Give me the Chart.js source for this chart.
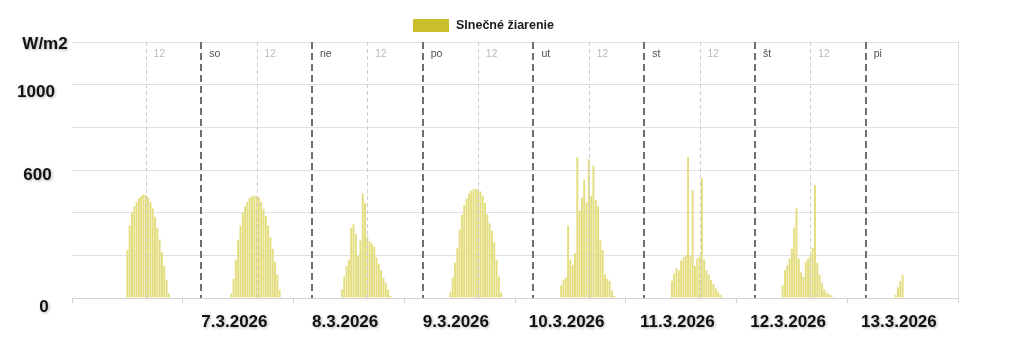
<!DOCTYPE html>
<html>
<head>
<meta charset="utf-8">
<script src="https://cdn.jsdelivr.net/npm/chart.js@4.4.1/dist/chart.umd.min.js"></script>
<style>
  body { margin: 0; background: #fff; }
  #wrap { width: 1024px; height: 346px; }
</style>
</head>
<body>
<div id="wrap"><canvas id="irr" width="1024" height="346"></canvas></div>
<script>
// x axis is in hours, counted from 5.3.2026 20:00 (so 6.3 00:00 is hour 4)
const seriesName = 'Slnečné žiarenie';
const dayDates = ['6.3.2026', '7.3.2026', '8.3.2026', '9.3.2026', '10.3.2026', '11.3.2026', '12.3.2026', '13.3.2026'];
const weekdays = ['pi', 'so', 'ne', 'po', 'ut', 'st', 'št', 'pi'];
const noonLabel = '12';

// hour of the first half-hour reading in each day
const firstSlot = [8, 6.5, 6.5, 6, 6, 6, 6, 6.5];

// W/m2, one value per 30 minutes
const day0603 = [225, 340, 400, 430, 450, 468, 478, 485, 483, 472, 450, 420, 380, 330, 275, 215, 150, 85, 20];
const day0703 = [20, 90, 180, 270, 340, 400, 430, 452, 470, 477, 480, 478, 472, 450, 418, 385, 340, 285, 230, 170, 110, 40];
const day0803 = [40, 100, 150, 180, 330, 345, 300, 200, 270, 490, 445, 290, 265, 255, 240, 190, 160, 130, 95, 70, 40, 10];
const day0903 = [30, 95, 165, 235, 320, 390, 435, 465, 490, 503, 510, 512, 508, 500, 480, 445, 392, 350, 315, 262, 180, 100, 25];
const day1003 = [60, 85, 95, 340, 180, 155, 210, 660, 410, 470, 555, 450, 650, 480, 620, 460, 430, 270, 225, 110, 90, 80, 35, 10];
const day1103 = [80, 115, 140, 130, 175, 190, 200, 660, 195, 505, 150, 185, 195, 560, 180, 130, 110, 85, 65, 45, 30, 15, 5];
const day1203 = [60, 130, 155, 185, 230, 330, 420, 185, 120, 100, 170, 185, 200, 235, 530, 165, 110, 70, 40, 25, 20, 12, 5];
const day1303 = [15, 50, 80, 108];
const dayValues = [day0603, day0703, day0803, day0903, day1003, day1103, day1203, day1303];

const yTicks = [0, 600, 1000, 1200];
const yTickLabels = ['0', '600', '1000', 'W/m2'];

// label nudges (px) to sit like the original
const yLabelX = [44, 37.5, 36, 45];
const yLabelDy = [9.5, 5, 8, 2];

const FONT = "'Liberation Sans', Arial, sans-serif";
const DAY0 = 4; // hour of 6.3 00:00 on the axis

const points = [];
dayValues.forEach((vals, d) => {
  vals.forEach((v, i) => {
    points.push({ x: DAY0 + d * 24 + firstSlot[d] + i * 0.5, y: v });
  });
});

const overlay = {
  id: 'overlay',
  afterDatasetsDraw(chart) {
    const { ctx, chartArea: a, scales: { x } } = chart;
    ctx.save();
    // noon lines
    ctx.strokeStyle = '#cdcdcd';
    ctx.lineWidth = 1;
    ctx.setLineDash([4, 3]);
    for (let d = 0; d < 7; d++) {
      const px = Math.round(x.getPixelForValue(DAY0 + d * 24 + 12)) + 0.5;
      ctx.beginPath(); ctx.moveTo(px, a.top); ctx.lineTo(px, a.bottom); ctx.stroke();
    }
    // midnight lines
    ctx.strokeStyle = '#6f6f6f';
    ctx.lineWidth = 2;
    ctx.setLineDash([7, 4]);
    for (let d = 1; d < dayDates.length; d++) {
      const px = Math.round(x.getPixelForValue(DAY0 + d * 24));
      ctx.beginPath(); ctx.moveTo(px, a.top); ctx.lineTo(px, a.bottom); ctx.stroke();
    }
    ctx.setLineDash([]);
    ctx.textBaseline = 'middle';
    ctx.textAlign = 'left';
    ctx.font = '10px ' + FONT;
    ctx.fillStyle = '#b9b9b9';
    for (let d = 0; d < 7; d++) {
      ctx.fillText(noonLabel, x.getPixelForValue(DAY0 + d * 24 + 12) + 8, a.top + 12);
    }
    ctx.font = '10.5px ' + FONT;
    ctx.fillStyle = '#4f4f4f';
    for (let d = 1; d < dayDates.length; d++) {
      ctx.fillText(weekdays[d], x.getPixelForValue(DAY0 + d * 24) + 8, a.top + 12);
    }
    ctx.restore();
  },
  afterDraw(chart) {
    const { ctx, chartArea: a, scales: { x, y } } = chart;
    ctx.save();
    ctx.shadowColor = 'rgba(0,0,0,0.3)';
    ctx.shadowBlur = 3;
    ctx.shadowOffsetX = 1;
    ctx.shadowOffsetY = 1;
    ctx.fillStyle = '#111';
    ctx.font = 'bold 17px ' + FONT;
    ctx.textAlign = 'center';
    ctx.textBaseline = 'middle';
    yTicks.forEach((v, i) => {
      ctx.fillText(yTickLabels[i], yLabelX[i], y.getPixelForValue(v) + yLabelDy[i]);
    });
    for (let d = 1; d < dayDates.length; d++) {
      ctx.fillText(dayDates[d], x.getPixelForValue(DAY0 + d * 24 + 7.2), a.bottom + 24);
    }
    ctx.restore();

    // legend
    ctx.save();
    ctx.fillStyle = '#c8bf2a';
    ctx.fillRect(413, 19, 36, 13);
    ctx.fillStyle = '#1a1a1a';
    ctx.font = 'bold 12.5px ' + FONT;
    ctx.textBaseline = 'middle';
    ctx.fillText(seriesName, 456, 25.5);
    ctx.restore();
  }
};

new Chart(document.getElementById('irr'), {
  type: 'bar',
  data: {
    datasets: [{
      label: seriesName,
      data: points,
      backgroundColor: '#e4de80',
      barPercentage: 0.85,
      categoryPercentage: 1
    }]
  },
  options: {
    responsive: false,
    animation: false,
    layout: { padding: { left: 72, right: 66, top: 42, bottom: 0 } },
    plugins: {
      legend: { display: false },
      tooltip: { enabled: false }
    },
    scales: {
      x: {
        type: 'linear',
        offset: false,
        min: 0,
        max: 192,
        ticks: { stepSize: 24, display: false },
        afterFit: s => { s.height = 48; },
        grid: {
          offset: false,
          color: c => (c.tick && c.tick.value === 192 ? '#dcdcdc' : 'rgba(0,0,0,0)'),
          tickColor: '#d0d0d0',
          tickLength: 5
        },
        border: { color: '#d4d4d4' }
      },
      y: {
        min: 0,
        max: 1200,
        ticks: { stepSize: 200, display: false },
        afterFit: s => { s.width = 0; },
        grid: { color: '#e0e0e0', drawTicks: false },
        border: { display: false }
      }
    }
  },
  plugins: [overlay]
});
</script>
</body>
</html>
